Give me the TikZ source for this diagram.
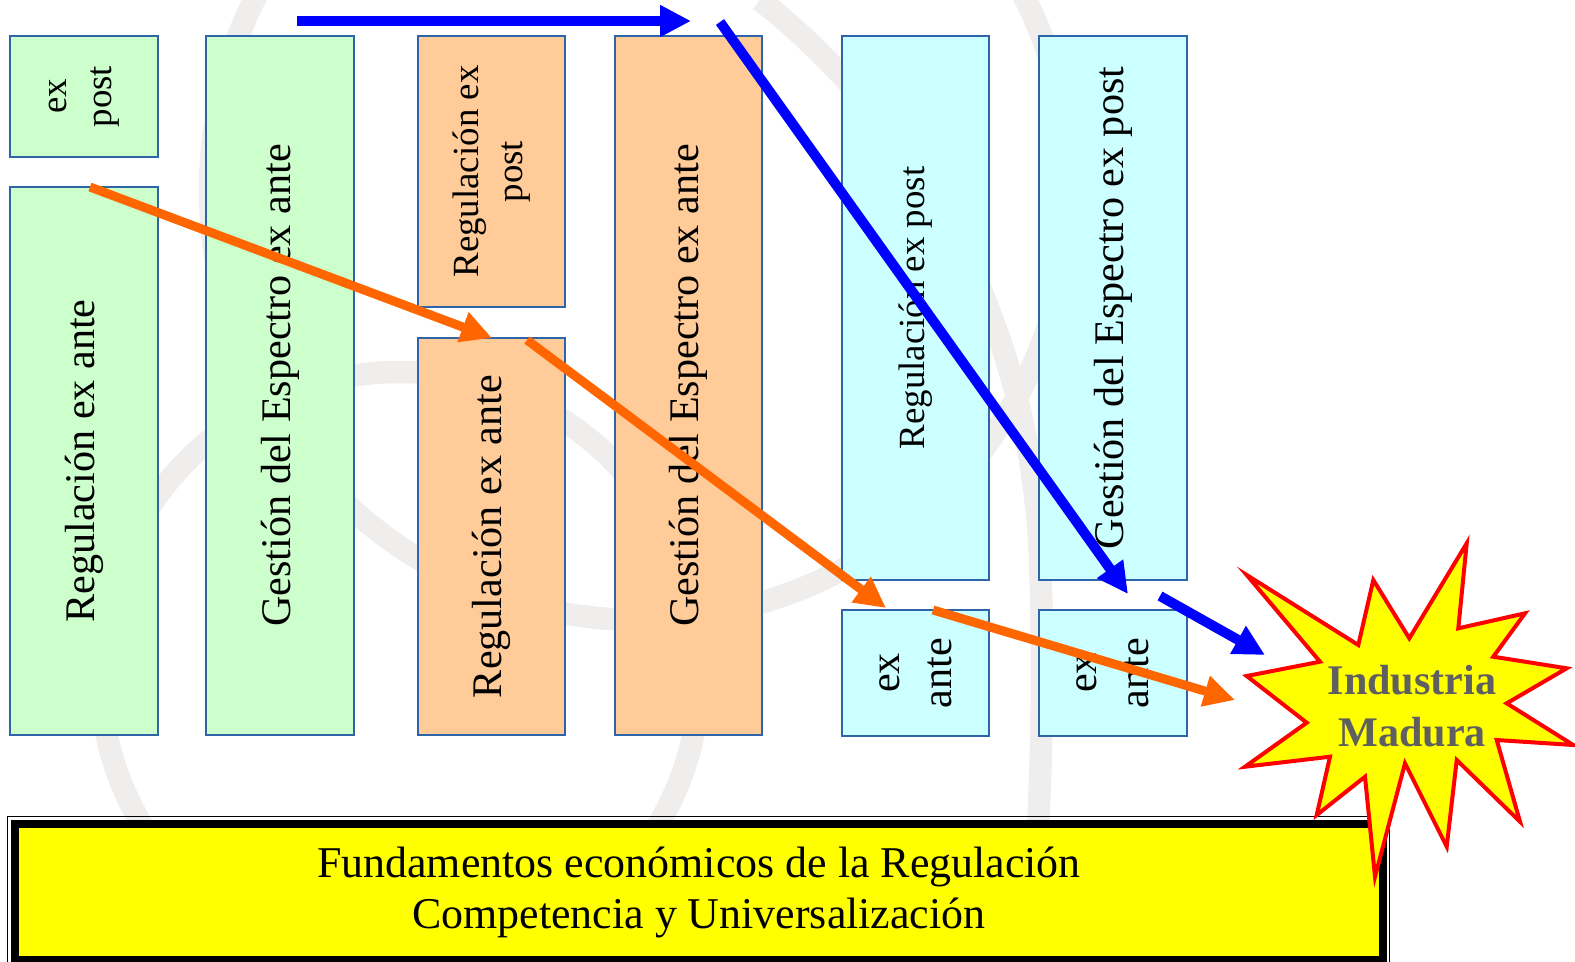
\documentclass[tikz,border=0pt]{standalone}
\usepackage{fontspec}
\setmainfont{Liberation Serif}
\usepackage{tikz}
\usetikzlibrary{arrows.meta}
\usepackage{xcolor}
\definecolor{verde}{HTML}{CCFFCC}
\definecolor{naranja}{HTML}{FFCC99}
\definecolor{celeste}{HTML}{CCFFFF}
\definecolor{borde}{HTML}{2E64A8}
\definecolor{azul}{HTML}{0000FF}
\definecolor{flecha}{HTML}{FF6600}
\definecolor{marca}{HTML}{F0EEEC}
\definecolor{amarillo}{HTML}{FFFF00}
\definecolor{rojo}{HTML}{FF0000}
\definecolor{gris}{HTML}{5F5F5F}
\newcommand{\grande}{\fontsize{24}{29.5}\selectfont}
\newcommand{\chico}{\fontsize{21}{25.5}\selectfont}
\newcommand{\titulo}{\fontsize{25}{29}\selectfont}
\tikzset{verde/.style={black,draw=borde,fill=verde,rectangle,line width=0.04cm,minimum height=2.96cm,align=center}}
\tikzset{naranja/.style={black,draw=borde,fill=naranja,rectangle,line width=0.04cm,minimum height=2.96cm,align=center}}
\tikzset{celeste/.style={black,draw=borde,fill=celeste,rectangle,line width=0.04cm,minimum height=2.96cm,align=center}}
\tikzset{azul/.style={draw=azul,line width=0.2cm,-{Triangle[length=0.62cm,width=0.6cm]}}}
\tikzset{flecha/.style={draw=flecha,line width=0.18cm,-{Triangle[length=0.62cm,width=0.6cm]}}}
\tikzset{marca/.style={draw=marca,line width=0.45cm}}
\tikzset{estrella/.style={draw=rojo,fill=amarillo,line width=0.08cm,line join=miter}}
\tikzset{cartel/.style={draw=black,fill=amarillo,line width=0.16cm,rectangle,align=center}}

\begin{document}
\begin{tikzpicture}[x=0.02cm,y=-0.02cm]
    \useasboundingbox (0,0) rectangle (1575,961);

    \draw[marca] (640,190) circle (430);
    \draw[marca] (400,672) circle (300);
    \draw[marca] (760,0) .. controls (900,110) and (1030,300) .. (1040,560) .. controls (1045,700) and (1040,820) .. (1030,961);

    \node[verde,rotate=90,minimum width=2.42cm,font=\chico] (expost1) at (84,96.5) {ex\\post};
    \node[verde,rotate=90,minimum width=10.96cm,font=\grande] (exante1) at (84,461) {Regulación ex ante};
    \node[verde,rotate=90,minimum width=13.98cm,font=\grande] (espectro1) at (280,385.5) {Gestión del Espectro ex ante};

    \node[naranja,rotate=90,minimum width=5.42cm,font=\chico] (expost2) at (491.5,171.5) {Regulación ex\\post};
    \node[naranja,rotate=90,minimum width=7.94cm,font=\grande] (exante2) at (491.5,536.5) {Regulación ex ante};
    \node[naranja,rotate=90,minimum width=13.98cm,font=\grande] (espectro2) at (688.5,385.5) {Gestión del Espectro ex ante};

    \node[celeste,rotate=90,minimum width=10.88cm,font=\chico] (expost3) at (915.5,308) {Regulación ex post};
    \node[celeste,rotate=90,minimum width=2.52cm,font=\grande] (exante3) at (915.5,673) {ex\\ante};
    \node[celeste,rotate=90,minimum width=10.88cm,font=\grande] (espectro3) at (1113,308) {Gestión del Espectro ex post};
    \node[celeste,rotate=90,minimum width=2.52cm,font=\grande] (exante4) at (1113,673) {ex\\ante};

    \node[draw=black,line width=0.02cm,rectangle,minimum width=27.66cm,minimum height=3.02cm] (marco) at (698.5,892) {};
    \node[cartel,minimum width=27.38cm,minimum height=2.72cm,font=\titulo] (titulo) at (698.9,892) {Fundamentos económicos de la Regulación\\Competencia y Universalización};

    \draw[estrella] (1246.7,575) -- (1358.3,645) -- (1373.3,580) -- (1409.3,638.3) -- (1466.7,543.3) -- (1458.3,628.3)
        -- (1525,613.3) -- (1493.3,656.7) -- (1566.7,668.3) -- (1506.7,703.3) -- (1573.3,745) -- (1496.7,740)
        -- (1520,821.7) -- (1456.7,760) -- (1446.7,846.7) -- (1405,763.3) -- (1375,876.7) -- (1365,776.7)
        -- (1316.7,815) -- (1330,756.7) -- (1245,766.7) -- (1306.7,722.7) -- (1246.7,676) -- (1320,661.7) -- cycle;
    \node[font=\bfseries\grande,text=gris,align=center] (industria) at (1412,706) {Industria\\Madura};

    \coordinate (a1) at (297,21);
    \coordinate (a2) at (691,21);
    \coordinate (b1) at (720,22);
    \coordinate (b2) at (1128,594);
    \coordinate (c1) at (1160,596);
    \coordinate (c2) at (1265,655);
    \coordinate (o1) at (90,187);
    \coordinate (o2) at (492,338);
    \coordinate (p1) at (527,340);
    \coordinate (p2) at (886,608);
    \coordinate (q1) at (933,610);
    \coordinate (q2) at (1235,700);

    \draw[azul] (a1) -- (a2);
    \draw[azul] (b1) -- (b2);
    \draw[azul] (c1) -- (c2);

    \draw[flecha] (o1) -- (o2);
    \draw[flecha] (p1) -- (p2);
    \draw[flecha] (q1) -- (q2);
\end{tikzpicture}
\end{document}
